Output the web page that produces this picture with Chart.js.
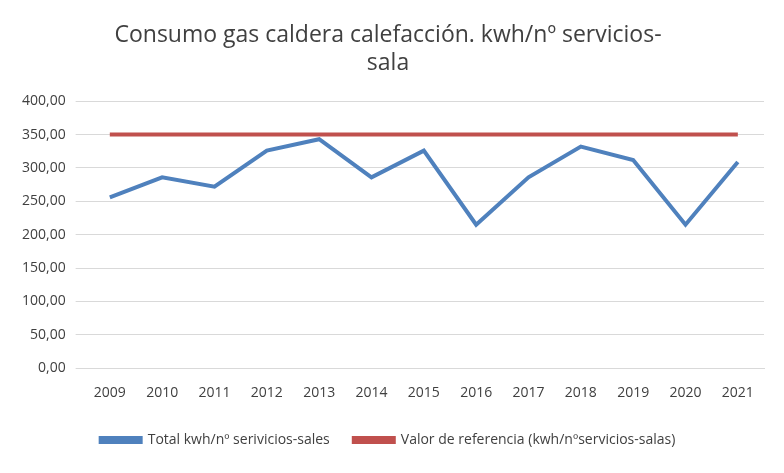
<!DOCTYPE html>
<html><head><meta charset="utf-8">
<script src="https://cdn.jsdelivr.net/npm/chart.js"></script>
<style>body{margin:0;background:#fff}#wrap{width:784px;height:473px}</style>
</head><body><div id="wrap"><canvas id="c"></canvas></div>
<script>
const years = ['2009','2010','2011','2012','2013','2014','2015','2016','2017','2018','2019','2020','2021'];
const totalKwh = [256,286,272,326,343,286,326,215,286,332,312,215,309];
const referencia = [350,350,350,350,350,350,350,350,350,350,350,350,350];

new Chart(document.getElementById('c'), {
  type: 'line',
  data: {
    labels: years,
    datasets: [
      { label: 'Total kwh/nº serivicios-sales', data: totalKwh, borderColor: '#4f81bd', backgroundColor: '#4f81bd', borderWidth: 4, pointRadius: 0, tension: 0 },
      { label: 'Valor de referencia (kwh/nºservicios-salas)', data: referencia, borderColor: '#c0504d', backgroundColor: '#c0504d', borderWidth: 4, pointRadius: 0 }
    ]
  },
  options: {
    responsive: true, maintainAspectRatio: false, animation: false,
    layout: { padding: { left: 12, right: 20, top: 22, bottom: 16 } },
    plugins: {
      title: { display: true, text: ['Consumo gas caldera calefacción. kwh/nº servicios-', 'sala'], color: '#404040', font: { family: '"Open Sans", sans-serif', size: 23, weight: 'normal' }, padding: { bottom: 24 } },
      legend: { position: 'bottom', labels: { boxWidth: 40, boxHeight: 4, color: '#404040', font: { family: '"Open Sans", sans-serif', size: 14 }, padding: 24 } }
    },
    scales: {
      x: { offset: true, grid: { display: false }, border: { color: '#d9d9d9' }, ticks: { padding: 8, color: '#404040', font: { family: '"Open Sans", sans-serif', size: 14 } } },
      y: { min: 0, max: 400, border: { display: false }, grid: { color: '#d9d9d9' },
           ticks: { stepSize: 50, padding: 10, color: '#404040', font: { family: '"Open Sans", sans-serif', size: 14 }, callback: v => v.toFixed(2).replace('.', ',') } }
    }
  }
});
</script></body></html>
